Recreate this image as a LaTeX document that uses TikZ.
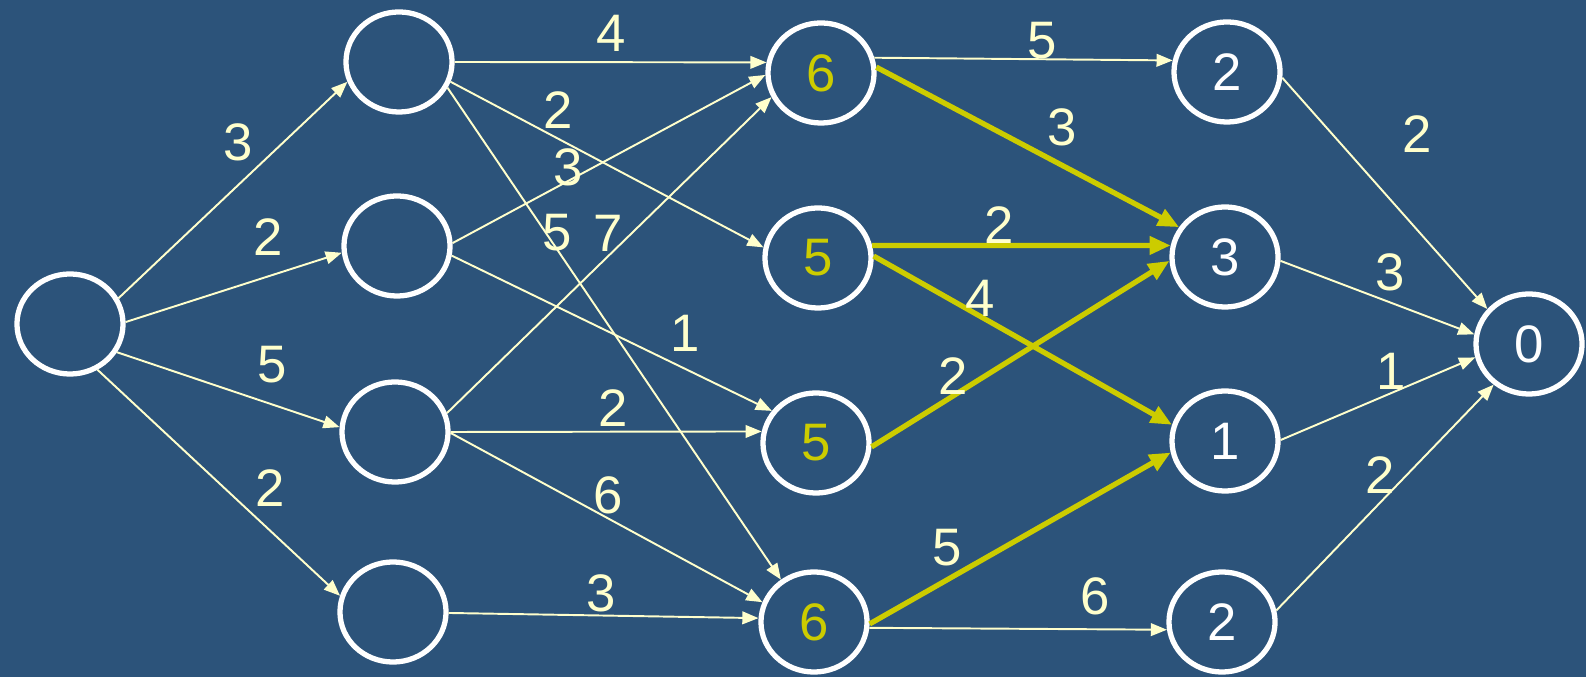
\documentclass[tikz,border=0pt]{standalone}
\usepackage{fontspec}
\setmainfont{Liberation Sans}
\usetikzlibrary{arrows.meta,shapes.geometric}
\definecolor{bgblue}{RGB}{44,83,122}
\definecolor{edgecol}{RGB}{255,255,204}
\definecolor{pathcol}{RGB}{204,204,0}
\tikzset{
  stage/.style={ellipse, draw=white, line width=1.5pt, minimum width=1.06cm,
                minimum height=1.0cm, inner sep=0pt, font=\fontsize{15}{18}\selectfont, text=white},
  hot/.style={stage, text=pathcol},
  arc/.style={-{Triangle[length=4.6pt,width=3.6pt]}, edgecol, line width=0.55pt},
  best/.style={-{Triangle[length=6pt,width=5pt]}, pathcol, line width=1.5pt},
  wt/.style={font=\fontsize{15}{18}\selectfont, text=edgecol, inner sep=0pt},
}

\begin{document}
\begin{tikzpicture}[x=0.01cm, y=-0.01cm]
    \fill[bgblue] (0,0) rectangle (1586,677);
    \useasboundingbox (0,0) rectangle (1586,677);
    % stages
    \node[stage] (s)  at (70,324)  {};
    \node[stage] (a1) at (399,62)  {};
    \node[stage] (a2) at (397,246) {};
    \node[stage] (a3) at (395,432) {};
    \node[stage] (a4) at (393,612) {};
    \node[hot]   (b1) at (821,73)  {6};
    \node[hot]   (b2) at (818,258) {5};
    \node[hot]   (b3) at (816,443) {5};
    \node[hot]   (b4) at (814,622) {6};
    \node[stage] (c1) at (1227,72)  {2};
    \node[stage] (c2) at (1225,257) {3};
    \node[stage] (c3) at (1225,441) {1};
    \node[stage] (c4) at (1222,622) {2};
    \node[stage] (t)  at (1529,344) {0};
    % arcs
    \draw[arc] (s.28)  -- (a1.201);
    \draw[arc] (s.2)   -- (a2.187);
    \draw[arc] (s.-31) -- (a3.175);
    \draw[arc] (s.-59) -- (a4.163);
    \draw[arc] (a1.0)   -- (b1.169);
    \draw[arc] (a1.-21) -- (b2.169);
    \draw[arc] (a1.-28) -- (b4.128);
    \draw[arc] (a2.3)   -- (b1.182);
    \draw[arc] (a2.-10) -- (b3.144);
    \draw[arc] (a3.20)  -- (b1.206);
    \draw[arc] (a3.0)   -- (b3.168);
    \draw[arc] (a3.-1)  -- (b4.159);
    \draw[arc] (a4.-1)  -- (b4.176);
    \draw[arc] (b1.16)  -- (c1.168);
    \draw[arc] (b4.-6)  -- (c4.188);
    \draw[arc] (c1.-6)  -- (t.140);
    \draw[arc] (c2.-4)  -- (t.170);
    \draw[arc] (c3.1)   -- (t.194);
    \draw[arc] (c4.12)  -- (t.229);
    \draw[best] (b1.6)  -- (c2.147);
    \draw[best] (b2.13) -- (c2.168);
    \draw[best] (b2.2)  -- (c3.163);
    \draw[best] (b3.-4) -- (c2.184);
    \draw[best] (b4.-2) -- (c3.192);
    % weights
    \node[wt] (w-s-a1) at (238,142) {3};
    \node[wt] (w-s-a2) at (268,237) {2};
    \node[wt] (w-s-a3) at (272,365) {5};
    \node[wt] (w-s-a4) at (270,488) {2};
    \node[wt] (w-a1-b1) at (611,33)  {4};
    \node[wt] (w-a1-b2) at (558,110) {2};
    \node[wt] (w-a2-b1) at (568,167) {3};
    \node[wt] (w-a1-b4) at (557,233) {5};
    \node[wt] (w-a3-b1) at (608,233) {7};
    \node[wt] (w-a2-b3) at (685,333) {1};
    \node[wt] (w-a3-b3) at (613,408) {2};
    \node[wt] (w-a3-b4) at (608,495) {6};
    \node[wt] (w-a4-b4) at (601,593) {3};
    \node[wt] (w-b1-c1) at (1042,41)  {5};
    \node[wt] (w-b1-c2) at (1062,127) {3};
    \node[wt] (w-b2-c2) at (999,225)  {2};
    \node[wt] (w-b2-c3) at (980,298)  {4};
    \node[wt] (w-b3-c2) at (953,376)  {2};
    \node[wt] (w-b4-c3) at (947,548)  {5};
    \node[wt] (w-b4-c4) at (1095,596) {6};
    \node[wt] (w-c1-t) at (1417,134) {2};
    \node[wt] (w-c2-t) at (1390,272) {3};
    \node[wt] (w-c3-t) at (1391,371) {1};
    \node[wt] (w-c4-t) at (1380,475) {2};
\end{tikzpicture}
\end{document}
